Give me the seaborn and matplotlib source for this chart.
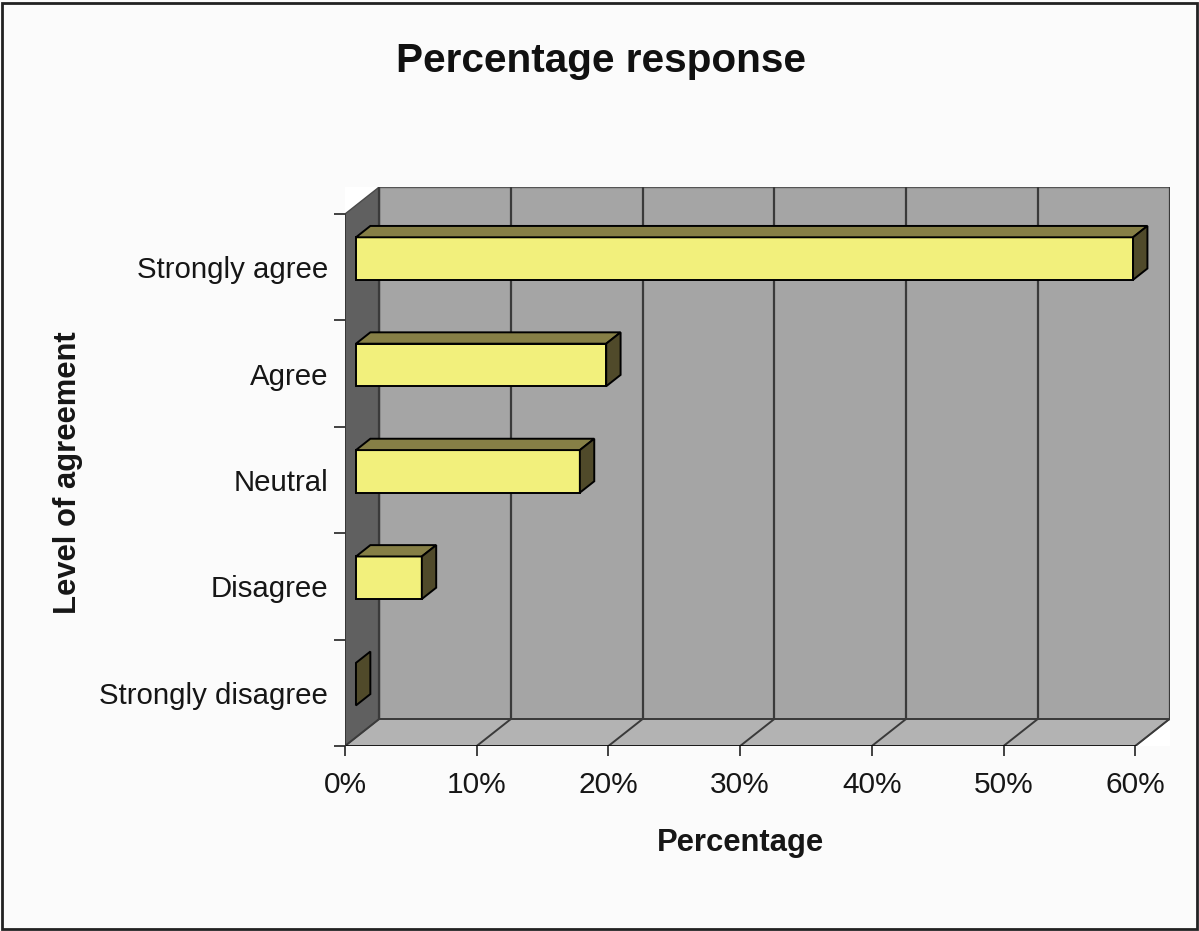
import numpy as np
import pandas as pd
import matplotlib
matplotlib.use("Agg")
import matplotlib.pyplot as plt
import seaborn as sns
from matplotlib.patches import Polygon, Rectangle
from matplotlib.transforms import Affine2D
from matplotlib.ticker import FixedLocator

# ---- data -------------------------------------------------------------
levels = ["Strongly agree", "Agree", "Neutral", "Disagree", "Strongly disagree"]
percent = [59, 19, 17, 5, 0]
x_ticks = [0, 10, 20, 30, 40, 50, 60]
x_tick_labels = ["0%", "10%", "20%", "30%", "40%", "50%", "60%"]

# ---- style ------------------------------------------------------------
sns.set_theme(style="white")
plt.rcParams["font.family"] = ["Liberation Sans", "DejaVu Sans"]

FRONT = "#f2f07c"
TOP = "#867f46"
SIDE = "#504a2a"
BACK_WALL = "#a5a5a5"
SIDE_WALL = "#606060"
FLOOR = "#b3b3b3"
GRID = "#3a3a3a"
TEXT = "#161616"

# oblique depth of the 3-D box, in data units (x: percent, y: category)
DX = 2.6
DY = 0.254
Z_FRONT, Z_BACK = 0.32, 0.74   # bar depth inside the box
XMAX = x_ticks[-1]
YTOP, YBOT = -0.5, len(levels) - 0.5


def proj(x, y, z):
    return (x + z * DX, y - z * DY)


fig = plt.figure(figsize=(11.99, 9.31), dpi=100)
ax = fig.add_axes([345 / 1199, 1 - 746 / 931, 824.5 / 1199, 559 / 931])

df = pd.DataFrame({"level": levels, "percent": percent})
sns.barplot(data=df, x="percent", y="level", order=levels, orient="h",
            width=0.4, color=FRONT, saturation=1, edgecolor="black",
            linewidth=1.4, ax=ax, zorder=6)

# ---- box walls ----------------------------------------------------------
back = [proj(0, YTOP, 1), proj(XMAX, YTOP, 1), proj(XMAX, YBOT, 1), proj(0, YBOT, 1)]
ax.add_patch(Polygon(back, closed=True, facecolor=BACK_WALL, edgecolor="#555555",
                     lw=1.0, zorder=1))
side = [proj(0, YTOP, 0), proj(0, YTOP, 1), proj(0, YBOT, 1), proj(0, YBOT, 0)]
ax.add_patch(Polygon(side, closed=True, facecolor=SIDE_WALL, edgecolor="#4a4a4a",
                     lw=1.0, zorder=1))
floor = [proj(0, YBOT, 0), proj(XMAX, YBOT, 0), proj(XMAX, YBOT, 1), proj(0, YBOT, 1)]
ax.add_patch(Polygon(floor, closed=True, facecolor=FLOOR, edgecolor="#555555",
                     lw=1.0, zorder=1))

# gridlines on the back wall and across the floor
for xv in x_ticks:
    (xa, ya), (xb, yb) = proj(xv, YTOP, 1), proj(xv, YBOT, 1)
    ax.plot([xa, xb], [ya, yb], color=GRID, lw=1.6, zorder=2)
    (xc, yc) = proj(xv, YBOT, 0)
    ax.plot([xc, xb], [yc, yb], color=GRID, lw=1.4, zorder=2)
(xa, ya), (xb, yb) = proj(0, YBOT, 1), proj(XMAX, YBOT, 1)
ax.plot([xa, xb], [ya, yb], color=GRID, lw=1.4, zorder=2)

# front axis lines
ax.plot([0, XMAX], [YBOT, YBOT], color="black", lw=1.8, zorder=3)
ax.plot([0, 0], [YTOP, YBOT], color="#333333", lw=1.2, zorder=3)

# ---- 3-D bars: shift the front faces back, then add top and end faces -----
shift = Affine2D().translate(Z_FRONT * DX, -Z_FRONT * DY)
for p in list(ax.patches):
    if not isinstance(p, Rectangle):
        continue
    x0, y0, w, h = p.get_x(), p.get_y(), p.get_width(), p.get_height()
    p.set_transform(shift + ax.transData)
    top = [proj(x0, y0, Z_FRONT), proj(x0 + w, y0, Z_FRONT),
           proj(x0 + w, y0, Z_BACK), proj(x0, y0, Z_BACK)]
    end = [proj(x0 + w, y0, Z_FRONT), proj(x0 + w, y0 + h, Z_FRONT),
           proj(x0 + w, y0 + h, Z_BACK), proj(x0 + w, y0, Z_BACK)]
    if w > 0:
        ax.add_patch(Polygon(top, closed=True, facecolor=TOP, edgecolor="black",
                             lw=1.4, zorder=6))
    ax.add_patch(Polygon(end, closed=True, facecolor=SIDE, edgecolor="black",
                         lw=1.4, zorder=7))

# ---- axes ---------------------------------------------------------------
ax.set_xlim(0, XMAX + DX)
ax.set_ylim(YBOT, YTOP - DY)
for s in ax.spines.values():
    s.set_visible(False)

ax.set_xticks(x_ticks)
ax.set_xticklabels(x_tick_labels, fontsize=21.5, color=TEXT)
ax.tick_params(axis="x", direction="out", length=7, width=1.2, pad=11,
               bottom=True, color="#222222")
ax.set_yticks(range(len(levels)))
ax.set_yticklabels(levels, fontsize=21.2, color=TEXT)
ax.tick_params(axis="y", which="major", length=0, pad=12)
ax.yaxis.set_minor_locator(FixedLocator(np.arange(YTOP, YBOT + 0.01, 1.0)))
ax.tick_params(axis="y", which="minor", direction="out", length=8, width=1.2,
               left=True, color="#222222")

ax.set_xlabel("Percentage", fontsize=22.3, fontweight="bold", color=TEXT)
ax.xaxis.label.set_va("center")
ax.xaxis.set_label_coords((740 - 345) / 824.5, (746 - 843) / 559)
ax.set_ylabel("Level of agreement", fontsize=22.3, fontweight="bold", color=TEXT)
ax.yaxis.label.set_va("center")
ax.yaxis.set_label_coords((68 - 345) / 824.5, (746 - 473) / 559)

fig.text(601 / 1199, 1 - 61 / 931, "Percentage response", ha="center", va="center",
         fontsize=29.2, fontweight="bold", color="#111111")

# chart frame
fig.patches.append(Rectangle((0.002, 0.002), 0.996, 0.995, transform=fig.transFigure,
                             fill=False, edgecolor="#222222", lw=2.0))

fig.savefig("out.png", dpi=100, facecolor="#fbfbfb")
